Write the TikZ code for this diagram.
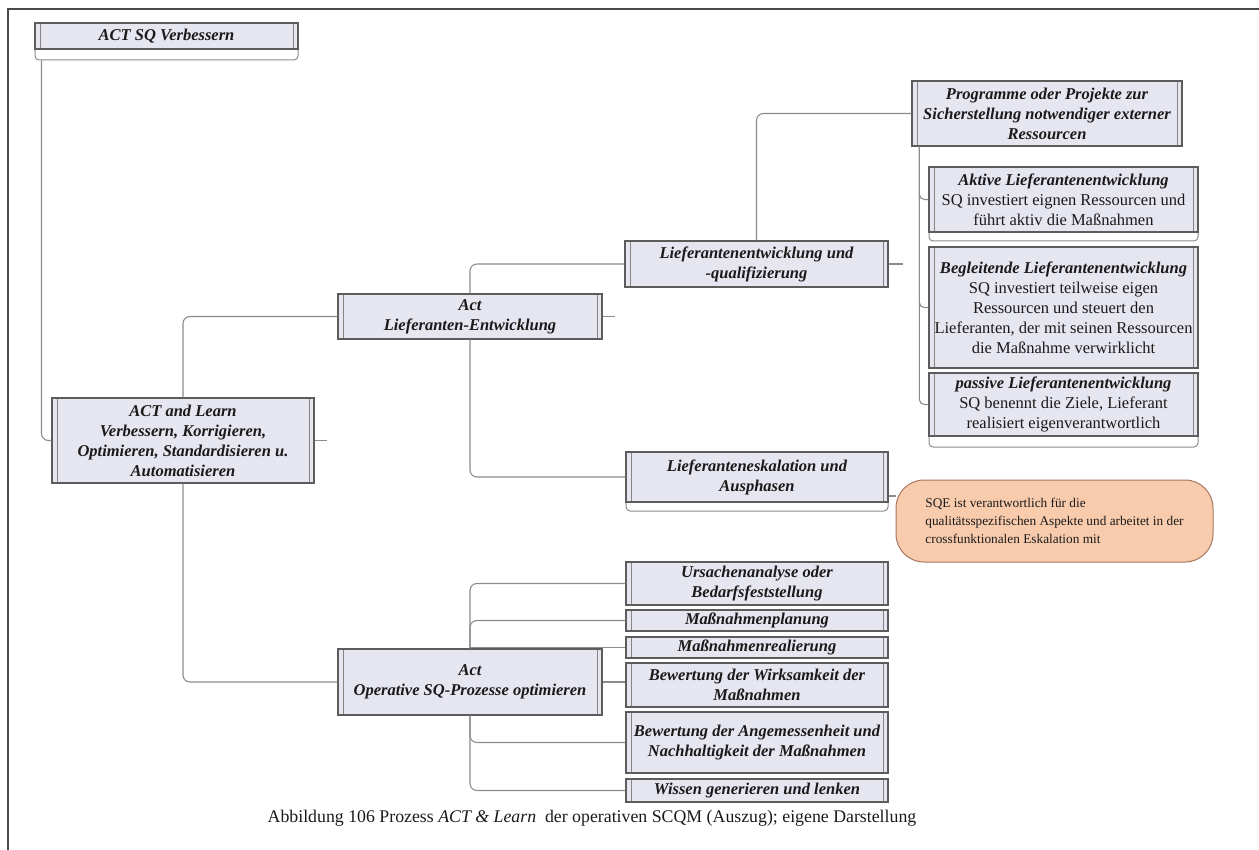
\documentclass[tikz,border=0pt]{standalone}
\usepackage{fontspec}
\setmainfont{Liberation Serif}
\definecolor{ink}{HTML}{1A1A1A}
\definecolor{frame}{HTML}{4A4A4A}
\definecolor{edge}{HTML}{5C5C5C}
\definecolor{lilac}{HTML}{E6E6F0}
\definecolor{wire}{HTML}{8C8C8C}
\definecolor{peach}{HTML}{F8CBAD}
\definecolor{rust}{HTML}{A87660}

\begin{document}
\begin{tikzpicture}[x=1pt, y=-1pt,
    link/.style={wire, line width=1.1pt, rounded corners=7pt},
    box/.style 2 args={rectangle, draw=edge, fill=lilac, line width=1.3pt, inner sep=0pt,
      minimum width=#1, minimum height=#2, align=center, text=ink,
      font=\fontsize{16.5}{20}\selectfont\bfseries\itshape,
      path picture={
        \draw[edge!75, line width=0.8pt] ([xshift=5pt]path picture bounding box.north west) -- ([xshift=5pt]path picture bounding box.south west);
        \draw[edge!75, line width=0.8pt] ([xshift=-5pt]path picture bounding box.north east) -- ([xshift=-5pt]path picture bounding box.south east);}},
    desc/.style 2 args={box={#1}{#2}, font=\fontsize{16.5}{20}\selectfont},
    tab/.style 2 args={rectangle, draw=wire, fill=white, line width=1pt, rounded corners=4pt,
      minimum width=#1, minimum height=#2, inner sep=0pt},
    note/.style={rectangle, rounded corners=28pt, draw=rust, fill=peach, line width=1pt,
      minimum width=317pt, minimum height=82pt, inner sep=0pt, align=left, text=ink,
      font=\fontsize{13.3}{18}\selectfont}]
  % fixed canvas, one unit = one pixel of the screenshot
  \path[use as bounding box] (0,0) rectangle (1259,850);
  \draw[frame, line width=2.2pt] (8,850) -- (8,9) -- (1259,9);

  % ================= left column =================
  \node[tab={263pt}{37pt}] (sqvtab) at (166.5,41.5) {};
  \node[box={263pt}{26pt}] (sqv) at (166.5,36) {ACT SQ Verbessern};
  \node[box={262pt}{85pt}] (root) at (183,440.5)
    {ACT and Learn\\Verbessern, Korrigieren,\\Optimieren, Standardisieren u.\\Automatisieren};

  % ================= second column =================
  \node[box={264pt}{45pt}] (lent) at (470,316.5) {Act\\Lieferanten-Entwicklung};
  \node[box={264pt}{66pt}] (opt) at (470,682) {Act\\Operative SQ-Prozesse optimieren};

  % ================= third column =================
  \node[box={263pt}{46pt}] (lqual) at (756.5,264) {Lieferantenentwicklung und\\-qualifizierung};
  \node[tab={262pt}{59pt}] (eskaltab) at (757,481.5) {};
  \node[box={262pt}{50pt}] (eskal) at (757,477) {Lieferanteneskalation und\\Ausphasen};
  \node[box={262pt}{43pt}] (ursa) at (757,583.5) {Ursachenanalyse oder\\Bedarfsfeststellung};
  \node[box={262pt}{21pt}] (mplan) at (757,620.5) {Maßnahmenplanung};
  \node[box={262pt}{21pt}] (mreal) at (757,647.5) {Maßnahmenrealierung};
  \node[box={262pt}{44pt}] (bwirk) at (757,685) {Bewertung der Wirksamkeit der\\Maßnahmen};
  \node[box={262pt}{61pt}] (bang) at (757,742.5)
    {Bewertung der Angemessenheit und\\Nachhaltigkeit der Maßnahmen};
  \node[box={262pt}{23pt}] (wissen) at (757,790.5) {Wissen generieren und lenken};

  % ================= right column =================
  \node[box={270pt}{65pt}] (prog) at (1047,113.5)
    {Programme oder Projekte zur\\Sicherstellung notwendiger externer\\Ressourcen};
  \node[tab={269pt}{74pt}] (aktivtab) at (1063.5,204) {};
  \node[desc={269pt}{65pt}] (aktiv) at (1063.5,199.5)
    {{\bfseries\itshape Aktive Lieferantenentwicklung}\\SQ investiert eignen Ressourcen und\\führt aktiv die Maßnahmen};
  \node[desc={269pt}{121pt}] (begl) at (1063.5,307.5)
    {{\bfseries\itshape Begleitende Lieferantenentwicklung}\\SQ investiert teilweise eigen\\Ressourcen und steuert den\\Lieferanten, der mit seinen Ressourcen\\die Maßnahme verwirklicht};
  \node[tab={269pt}{74pt}] (passivtab) at (1063.5,410) {};
  \node[desc={269pt}{63pt}] (passiv) at (1063.5,404.5)
    {{\bfseries\itshape passive Lieferantenentwicklung}\\SQ benennt die Ziele, Lieferant\\realisiert eigenverantwortlich};
  \node[note] (sqe) at (1054.5,521)
    {SQE ist verantwortlich für die\\qualitätsspezifischen Aspekte und arbeitet in der\\crossfunktionalen Eskalation mit};

  % ================= connectors =================
  \draw[link] ([xshift=7pt]sqvtab.south west) |- (root.west);
  \draw[link] (root.east) -- ++(12,0);
  \draw[link] (root.north) |- (lent.west);
  \draw[link] (root.south) |- (opt.west);
  \draw[link] (lent.east) -- ++(12,0);
  \draw[link] (lent.north) |- (lqual.west);
  \draw[link] (lent.south) |- (eskal.west);
  \draw[link] (lqual.east) -- ++(14,0);
  \draw[link] (lqual.north) |- (prog.west);
  \foreach \kid in {aktiv,begl,passiv}
    \draw[link, rounded corners=5pt] ([xshift=8pt]prog.south west) |- (\kid.west);
  \draw[link] ([yshift=-19pt]eskal.east) -- ([yshift=-19pt]eskal.east -| sqe.west);
  \draw[link] (opt.north) |- (ursa.west);
  \draw[link] (opt.north) |- (mplan.west);
  \draw[link] (opt.north |- mreal.west) -- (mreal.west);
  \draw[link] (opt.east) -- (opt.east -| bwirk.west);
  \draw[link] (opt.south) |- (bang.west);
  \draw[link] (opt.south) |- (wissen.west);

  % ================= caption =================
  \node[font=\fontsize{17.8}{20}\selectfont, text=ink] (cap) at (592,818)
    {Abbildung 106 Prozess \textit{ACT \& Learn}\ \ der operativen SCQM (Auszug); eigene Darstellung};
\end{tikzpicture}
\end{document}
